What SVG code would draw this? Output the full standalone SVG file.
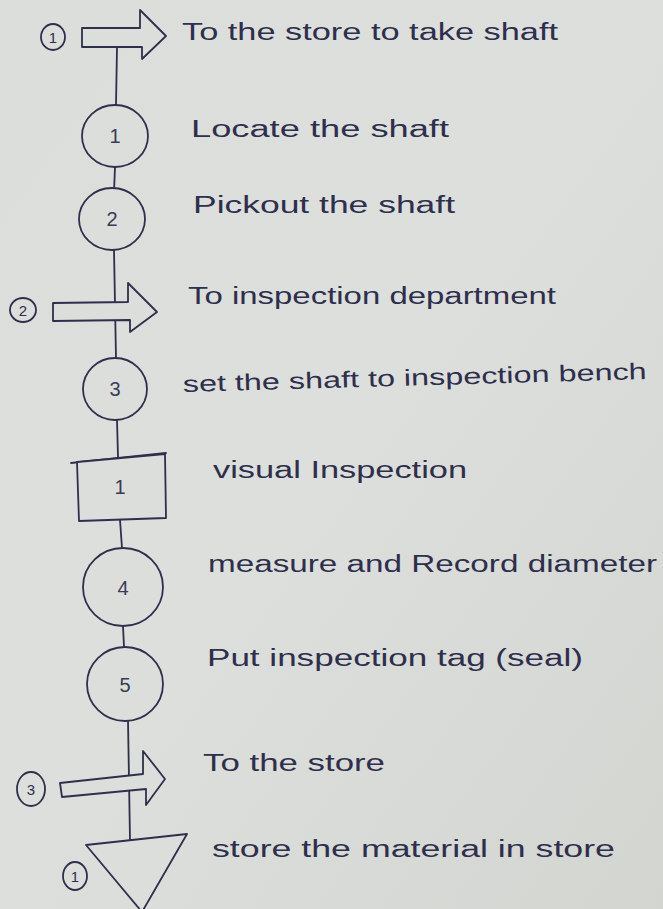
<svg xmlns="http://www.w3.org/2000/svg" width="663" height="909" viewBox="0 0 663 909">
<defs>
<linearGradient id="paper" x1="0" y1="0" x2="1" y2="1">
<stop offset="0" stop-color="#dcdedb"/>
<stop offset="0.5" stop-color="#dddfdc"/>
<stop offset="1" stop-color="#d3d5d1"/>
</linearGradient>
<style>
.ink{fill:none;stroke:#2e2f4c;stroke-width:1.8;stroke-linecap:round;stroke-linejoin:round}
.shape{fill:#dcdedb;stroke:#2e2f4c;stroke-width:1.8;stroke-linejoin:round}
.lbl{font-family:"Liberation Sans","DejaVu Sans",sans-serif;font-size:23px;fill:#2e2f4c}
.num{font-family:"Liberation Sans","DejaVu Sans",sans-serif;font-size:20px;fill:#3a3b55;text-anchor:middle}
.sm{font-family:"Liberation Sans","DejaVu Sans",sans-serif;font-size:15px;fill:#2e2f4c;text-anchor:middle}
</style>
</defs>
<rect width="663" height="909" fill="url(#paper)"/>

<g id="connectors" class="ink">
<path d="M117 47 L116 105"/>
<path d="M115 167 L114 192"/>
<path d="M114 250 L116 358"/>
<path d="M117 420 L118 457"/>
<path d="M120 520 L122 548"/>
<path d="M123 626 L124 647"/>
<path d="M128 720 L130 840"/>
</g>

<g id="transport1">
<ellipse cx="53" cy="37" rx="12" ry="13" class="ink"/>
<text x="53" y="43" class="sm">1</text>
<polygon points="82,28 140,28 140,10 166,36 142,59 142,47 82,47" class="shape"/>
</g>

<g id="operation1">
<ellipse cx="115" cy="136" rx="33" ry="31" class="shape"/>
<text x="115" y="143" class="num">1</text>
</g>

<g id="operation2">
<ellipse cx="112" cy="219" rx="33" ry="31" class="shape"/>
<text x="112" y="226" class="num">2</text>
</g>

<g id="transport2">
<ellipse cx="23" cy="310" rx="13" ry="12" class="ink"/>
<text x="23" y="316" class="sm">2</text>
<polygon points="53,303 128,302 128,283 157,312 130,332 130,320 53,321" class="shape"/>
</g>

<g id="operation3">
<ellipse cx="115" cy="389" rx="32" ry="31" class="shape"/>
<text x="115" y="396" class="num">3</text>
</g>

<g id="inspection1">
<path d="M71 463 L166 453" class="ink"/>
<polygon points="77,462 165,454 166,518 79,521" class="shape"/>
<text x="120" y="494" class="num">1</text>
</g>

<g id="operation4">
<ellipse cx="123" cy="587" rx="40" ry="39" class="shape"/>
<text x="123" y="595" class="num">4</text>
</g>

<g id="operation5">
<ellipse cx="125" cy="684" rx="38" ry="37" class="shape"/>
<text x="125" y="692" class="num">5</text>
</g>

<g id="transport3">
<ellipse cx="31" cy="789" rx="14" ry="17" class="ink"/>
<text x="31" y="795" class="sm">3</text>
<polygon points="60,783 143,774 143,751 165,779 146,805 146,789 62,797" class="shape"/>
</g>

<g id="storage1">
<ellipse cx="75" cy="876" rx="12" ry="14" class="ink"/>
<text x="75" y="882" class="sm">1</text>
<polygon points="86,845 187,834 142,912" class="shape"/>
</g>

<g id="labels">
<text x="182" y="40" class="lbl" textLength="376" lengthAdjust="spacingAndGlyphs">To the store to take shaft</text>
<text x="191" y="137" class="lbl" textLength="258" lengthAdjust="spacingAndGlyphs">Locate the shaft</text>
<text x="193" y="213" class="lbl" textLength="262" lengthAdjust="spacingAndGlyphs">Pickout the shaft</text>
<text x="188" y="304" class="lbl" textLength="368" lengthAdjust="spacingAndGlyphs">To inspection department</text>
<text x="183" y="392" class="lbl" textLength="464" lengthAdjust="spacingAndGlyphs" transform="rotate(-1.6 183 392)">set the shaft to inspection bench</text>
<text x="213" y="478" class="lbl" textLength="254" lengthAdjust="spacingAndGlyphs">visual Inspection</text>
<text x="208" y="572" class="lbl" textLength="449" lengthAdjust="spacingAndGlyphs">measure and Record diameter</text>
<text x="207" y="666" class="lbl" textLength="376" lengthAdjust="spacingAndGlyphs">Put inspection tag (seal)</text>
<text x="203" y="771" class="lbl" textLength="182" lengthAdjust="spacingAndGlyphs">To the store</text>
<text x="212" y="857" class="lbl" textLength="403" lengthAdjust="spacingAndGlyphs">store the material in store</text>
</g>
</svg>
